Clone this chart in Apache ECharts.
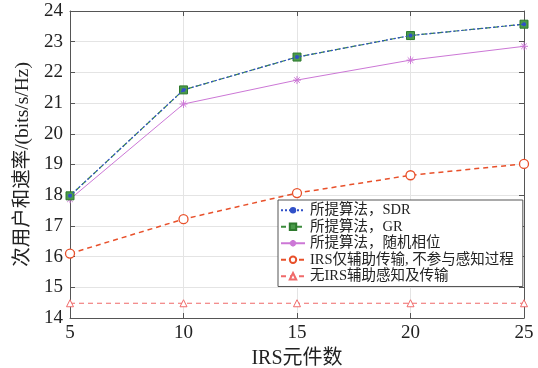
<!DOCTYPE html>
<html><head><meta charset="utf-8">
<script src="https://cdn.jsdelivr.net/npm/echarts@6/dist/echarts.min.js"></script>
<style>html,body{margin:0;padding:0;background:#fff}#c{width:538px;height:368px}</style>
</head><body><div id="c"></div>
<script>
var xCats = [5, 10, 15, 20, 25];
var sdr = [17.98, 21.43, 22.5, 23.2, 23.57];
var gr = [17.98, 21.43, 22.5, 23.2, 23.57];
var randPhase = [17.87, 20.97, 21.75, 22.4, 22.85];
var irsOnly = [16.1, 17.22, 18.07, 18.65, 19.02];
var noIrs = [14.48, 14.48, 14.48, 14.48, 14.48];
var names = ['所提算法，SDR', '所提算法，GR', '所提算法，随机相位', 'IRS仅辅助传输, 不参与感知过程', '无IRS辅助感知及传输'];
var FONT = '"Liberation Serif", "Times New Roman", "Noto Sans CJK SC", serif';

function pairs(arr){ return xCats.map(function(x,i){ return [x, arr[i]]; }); }

var chart = echarts.init(document.getElementById('c'));
var axisCommon = {
  axisLine:{show:true,onZero:false,lineStyle:{color:'#555',width:1}},
  axisTick:{show:true,inside:true,length:5,lineStyle:{color:'#555'}},
};
chart.setOption({
  animation:false,
  backgroundColor:'#fff',
  grid:{left:70,right:14,top:11,bottom:50,containLabel:false,outerBoundsMode:'none'},
  xAxis:[
    Object.assign({type:'value',min:5,max:25,interval:5,position:'bottom',
      name:'IRS元件数',nameLocation:'middle',nameGap:31,
      nameTextStyle:{fontFamily:FONT,fontSize:20,color:'#222'},
      axisLabel:{fontFamily:FONT,fontSize:19,color:'#222',margin:6},
      splitLine:{show:true,lineStyle:{color:'#e4e4e4'}}},axisCommon),
    Object.assign({type:'value',min:5,max:25,interval:5,position:'top',
      axisLabel:{show:false},splitLine:{show:false}},axisCommon)
  ],
  yAxis:[
    Object.assign({type:'value',min:14,max:24,interval:1,position:'left',
      name:'次用户和速率/(bits/s/Hz)',nameLocation:'middle',nameGap:35,
      nameTextStyle:{fontFamily:FONT,fontSize:19.5,color:'#222'},
      axisLabel:{fontFamily:FONT,fontSize:19,color:'#222',margin:7},
      splitLine:{show:true,lineStyle:{color:'#e4e4e4'}}},axisCommon),
    Object.assign({type:'value',min:14,max:24,interval:1,position:'right',
      axisLabel:{show:false},splitLine:{show:false}},axisCommon)
  ],
  legend:{
    orient:'vertical',left:278,top:200,
    backgroundColor:'#fff',borderColor:'#555',borderWidth:1,
    padding:[3,9,3,2],itemGap:2,itemWidth:24,itemHeight:8,
    textStyle:{fontFamily:FONT,fontSize:14.5,color:'#222'},
    data:names
  },
  series:[
    {name:names[0],type:'line',data:pairs(sdr),z:5,
      lineStyle:{color:'#3050c8',width:1.2,type:[2,2]},itemStyle:{color:'#3050c8'},
      symbol:'circle',symbolSize:4},
    {name:names[1],type:'line',data:pairs(gr),z:4,
      lineStyle:{color:'#3c8c3c',width:1.2,type:[5,3]},itemStyle:{color:'#4a9a4a',borderColor:'#2e7a2e',borderWidth:1},
      symbol:'rect',symbolSize:8},
    {name:names[2],type:'line',data:pairs(randPhase),z:3,
      lineStyle:{color:'#cc77d6',width:1},itemStyle:{color:'#cc77d6',borderColor:'#cc77d6',borderWidth:1},
      symbol:'path://M0,-5L0,5M-5,0L5,0M-3.5,-3.5L3.5,3.5M-3.5,3.5L3.5,-3.5',symbolSize:8},
    {name:names[3],type:'line',data:pairs(irsOnly),z:3,
      lineStyle:{color:'#e8502a',width:1.5,type:[5,4]},itemStyle:{color:'#fff',borderColor:'#e8502a',borderWidth:1.3},
      symbol:'circle',symbolSize:9},
    {name:names[4],type:'line',data:pairs(noIrs),z:3,
      lineStyle:{color:'#f06a6a',width:1.2,type:[5,4]},itemStyle:{color:'#fff',borderColor:'#f06a6a',borderWidth:1},
      symbol:'triangle',symbolSize:7}
  ]
});
</script></body></html>
